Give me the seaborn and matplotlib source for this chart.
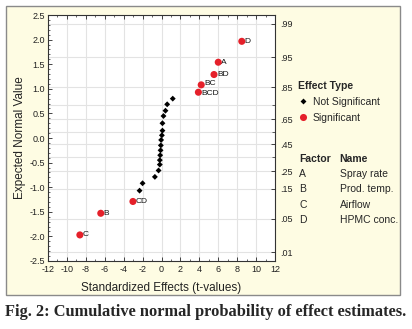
import matplotlib
matplotlib.use("Agg")
import matplotlib.pyplot as plt
import seaborn as sns
import pandas as pd
import numpy as np
from statistics import NormalDist
from matplotlib.patches import Rectangle

# ---- data ----
sig_labels = ['D', 'A', 'BD', 'BC', 'BCD', 'CD', 'B', 'C']
sig_t = [8.49, 6.0, 5.55, 4.2, 3.9, -3.02, -6.42, -8.63]
sig_z = [1.965, 1.54, 1.29, 1.08, 0.93, -1.29, -1.53, -1.97]
nonsig_t = [1.19, 0.6, 0.42, 0.21, 0.1, 0.1, 0.04, -0.04, -0.07, -0.1,
            -0.14, -0.18, -0.18, -0.31, -0.7, -2.0, -2.32]
nonsig_z = [0.80, 0.685, 0.555, 0.447, 0.30, 0.15, 0.055, -0.04, -0.15, -0.25,
            -0.35, -0.45, -0.54, -0.66, -0.79, -0.92, -1.07]
prob_grid = [.01, .05, .15, .25, .35, .45, .55, .65, .75, .85, .95, .99]
prob_labeled = [.99, .95, .85, .65, .45, .25, .15, .05, .01]
factors = ['A', 'B', 'C', 'D']
factor_names = ['Spray rate', 'Prod. temp.', 'Airflow', 'HPMC conc.']
x_ticks = list(range(-12, 13, 2))
y_ticks = [-2.5, -2.0, -1.5, -1.0, -0.5, 0.0, 0.5, 1.0, 1.5, 2.0, 2.5]

df = pd.DataFrame({
    't': nonsig_t + sig_t,
    'z': nonsig_z + sig_z,
    'type': ['Not Significant'] * len(nonsig_t) + ['Significant'] * len(sig_t),
})

sns.set_theme(style='white')
plt.rcParams['font.family'] = ['Liberation Sans', 'DejaVu Sans']

W, H = 412, 329
fig = plt.figure(figsize=(W / 100, H / 100), dpi=100)
fig.patch.set_facecolor('white')
fig.patches.append(Rectangle((6 / W, 1 - 295 / H), 394 / W, 289 / H,
                             transform=fig.transFigure, facecolor='#FEFCE3',
                             edgecolor='#8a8a8a', linewidth=1.0, zorder=-10))

L, R, T, B = 48, 275, 15, 261
ax = fig.add_axes([L / W, 1 - B / H, (R - L) / W, (B - T) / H])
ax.set_facecolor('white')

sns.scatterplot(data=df, x='t', y='z', hue='type', style='type',
                palette={'Not Significant': 'black', 'Significant': '#e5202a'},
                markers={'Not Significant': 'D', 'Significant': 'o'},
                size='type', sizes={'Not Significant': 9, 'Significant': 26},
                edgecolor='none', ax=ax, legend=True, zorder=5)

label_dy = {'BC': 0.9, 'BCD': -0.9}
for lab, tx, tz in zip(sig_labels, sig_t, sig_z):
    ax.annotate(lab, (tx, tz), xytext=(2.2, label_dy.get(lab, 0)),
                textcoords='offset points',
                fontsize=6.0, va='center', ha='left', color='#111111')

ax.set_xlim(-12, 12)
ax.set_ylim(-2.5, 2.5)
ax.set_xticks(x_ticks)
ax.set_xticklabels([str(v) for v in x_ticks])
ax.set_yticks(y_ticks)
ax.set_yticklabels([f'{v:.1f}' for v in y_ticks])
ax.set_xticks(np.arange(-12, 12.1, 1), minor=True)
ax.set_yticks(np.arange(-2.5, 2.51, 0.1), minor=True)

grid_pos = [NormalDist().inv_cdf(p) for p in prob_grid]
for g in grid_pos:
    ax.axhline(g, color='#e3e3e3', lw=0.8, zorder=0)
for xv in x_ticks[1:-1]:
    ax.axvline(xv, color='#e3e3e3', lw=0.8, zorder=0)

ax.tick_params(axis='both', which='major', direction='in', length=3, width=0.6,
               labelsize=6.5, labelcolor='#222222', top=True, pad=2)
ax.tick_params(axis='both', which='minor', direction='in', length=1.5, width=0.5,
               top=True)
ax.tick_params(axis='x', which='both', top=True, bottom=True)
ax.tick_params(axis='x', which='major', pad=3)
for s in ax.spines.values():
    s.set_color('#333333')
    s.set_linewidth(0.8)

ax.set_xlabel('Standardized Effects (t-values)', fontsize=8.5, color='#222222', labelpad=6)
ax.set_ylabel('Expected Normal Value', fontsize=8.5, color='#222222', labelpad=3)

ax2 = ax.twinx()
ax2.set_ylim(ax.get_ylim())
ax2.set_yticks([NormalDist().inv_cdf(p) for p in prob_labeled])
ax2.set_yticklabels([f'{p:.2f}'[1:] for p in prob_labeled])
ax2.set_yticks([NormalDist().inv_cdf(p) for p in [.75, .55, .35]], minor=True)
ax2.tick_params(axis='y', which='major', direction='in', length=3, width=0.6,
                labelsize=6.5, labelcolor='#222222', pad=4)
ax2.tick_params(axis='y', which='minor', direction='in', length=2, width=0.5)
ax2.grid(False)
for s in ax2.spines.values():
    s.set_visible(False)

# legend
sns.move_legend(ax, loc='upper left', bbox_to_anchor=(293 / W, 1 - 76 / H),
                bbox_transform=fig.transFigure, frameon=False, title='Effect Type',
                fontsize=7.5, title_fontsize=7.5, handletextpad=0.4,
                borderpad=0, handlelength=1.0, labelspacing=0.55)
leg = ax.get_legend()
leg.get_title().set_fontweight('bold')
leg._legend_box.align = 'left'

# factor table
fig.text(299 / W, 1 - 159 / H, 'Factor', fontsize=7.5, fontweight='bold', va='center')
fig.text(339 / W, 1 - 159 / H, 'Name', fontsize=7.5, fontweight='bold', va='center')
for i, (f, n) in enumerate(zip(factors, factor_names)):
    y = 174 + i * 15.3
    fig.text(299 / W, 1 - y / H, f, fontsize=7.5, va='center')
    fig.text(340 / W, 1 - y / H, n, fontsize=7.5, va='center')

fig.text(206 / W, 1 - 312 / H, 'Fig. 2: Cumulative normal probability of effect estimates.',
         ha='center', va='center', fontsize=11.8, fontweight='bold',
         family=['Liberation Serif', 'DejaVu Serif'])

fig.savefig('out.png', dpi=100)
